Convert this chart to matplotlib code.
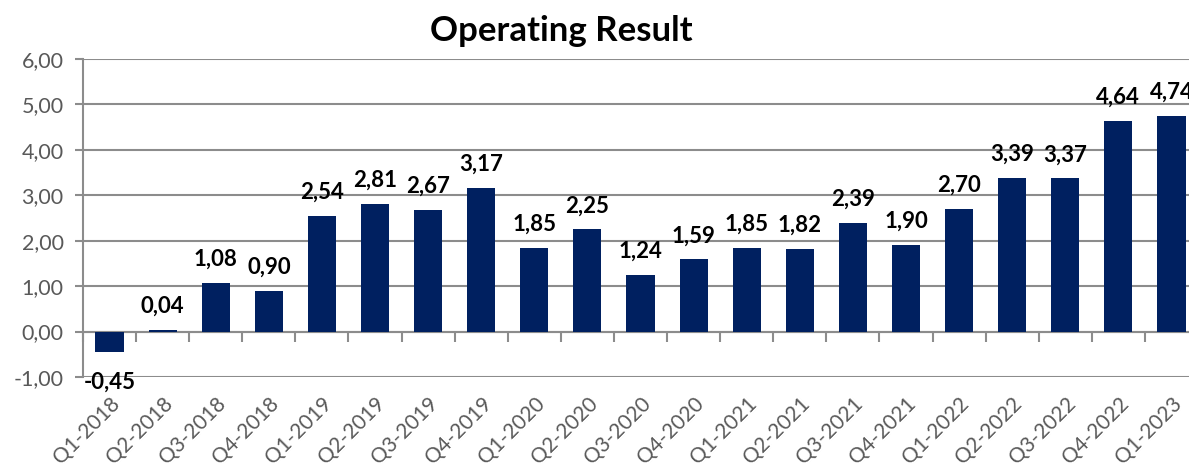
import matplotlib.pyplot as plt
import numpy as np

quarters = ["Q1-2018", "Q2-2018", "Q3-2018", "Q4-2018",
            "Q1-2019", "Q2-2019", "Q3-2019", "Q4-2019",
            "Q1-2020", "Q2-2020", "Q3-2020", "Q4-2020",
            "Q1-2021", "Q2-2021", "Q3-2021", "Q4-2021",
            "Q1-2022", "Q2-2022", "Q3-2022", "Q4-2022",
            "Q1-2023"]
result = [-0.45, 0.04, 1.08, 0.90,
          2.54, 2.81, 2.67, 3.17,
          1.85, 2.25, 1.24, 1.59,
          1.85, 1.82, 2.39, 1.90,
          2.70, 3.39, 3.37, 4.64,
          4.74]

plt.rcParams["font.family"] = ["Lato", "DejaVu Sans"]
grey = "#8c8c8c"

fig = plt.figure(figsize=(11.89, 4.66), dpi=100)
ax = fig.add_axes([83 / 1189, 1 - 377 / 466, 1115 / 1189, 318 / 466])

x = np.arange(len(quarters))
ax.bar(x, result, 0.53, color="#002060", zorder=3)

ax.set_xlim(-0.5, len(quarters) - 0.5)
ax.set_ylim(-1, 6)
ax.set_yticks(np.arange(-1, 7))
ax.set_yticklabels([f"{v:.2f}".replace(".", ",") for v in np.arange(-1, 7)],
                   fontsize=15.5, color="#595959")
ax.yaxis.grid(True, color=grey, lw=1.5, zorder=0)
ax.tick_params(axis="y", length=6, color=grey, width=1.5, pad=8)

ax.set_xticks(x)
ax.set_xticklabels(quarters, rotation=45, ha="right", rotation_mode="anchor",
                   fontsize=15, color="#595959")
ax.tick_params(axis="x", length=0, pad=12)

for s in ["top", "right", "bottom"]:
    ax.spines[s].set_visible(False)
ax.spines["left"].set_color(grey)
ax.spines["left"].set_linewidth(1.5)

# zero line with tick marks between categories
ax.axhline(0, color=grey, lw=1.5, zorder=2)
bounds = np.arange(len(quarters) + 1) - 0.5
ax.plot(bounds, np.zeros(len(bounds)), ls="none", marker=3, ms=7,
        mew=1.5, color=grey, zorder=2, clip_on=False)

for xi, v in zip(x, result):
    off = 17 if v >= 0 else -22
    ax.annotate(f"{v:.2f}".replace(".", ","), (xi, v), xytext=(0, off),
                textcoords="offset points", ha="center", va="center",
                fontsize=16, fontweight="bold", color="black", zorder=4)

fig.text(561 / 1189, 1 - 31 / 466, "Operating Result", ha="center", va="center",
         fontsize=25, fontweight="bold")

fig.savefig("out.png", dpi=100)
